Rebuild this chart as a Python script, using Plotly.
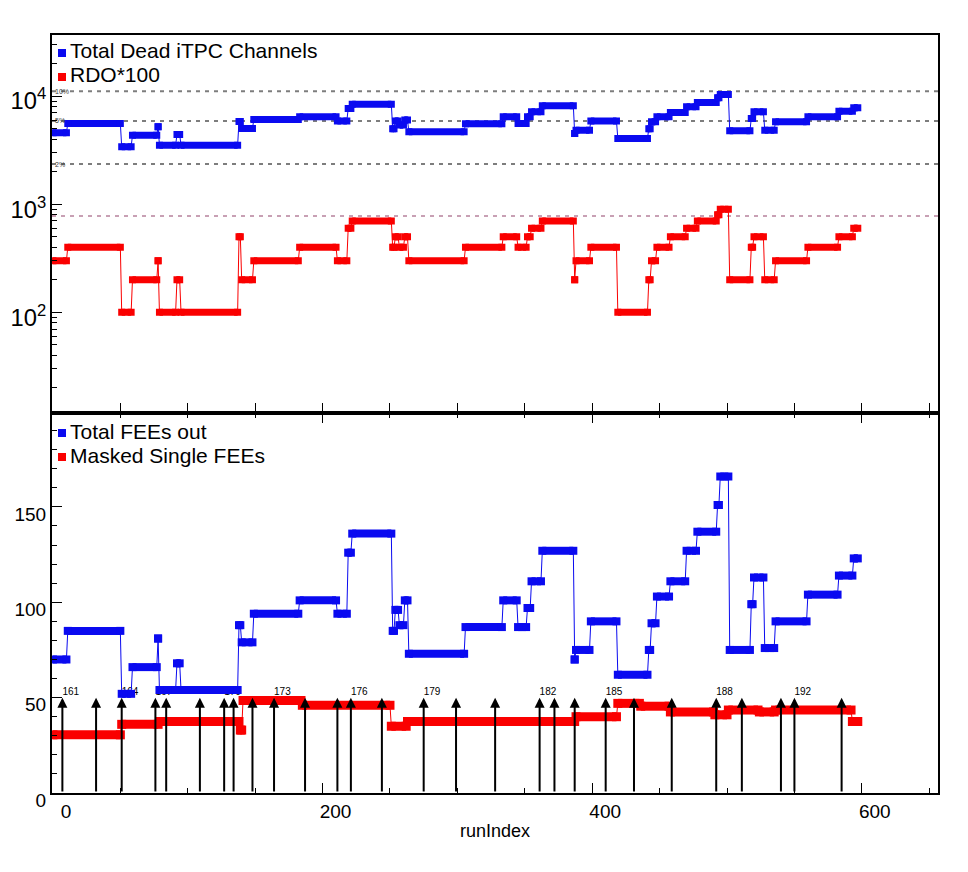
import numpy as np
import plotly.graph_objects as go

# ---------------- data ----------------
# run-index ranges sharing the same detector configuration
seg_start = [0, 11, 51, 59, 78, 79, 92, 95, 138, 140, 149, 183, 211, 219, 222, 252, 254, 257, 261, 264,
             306, 334, 345, 352, 355, 363, 387, 388, 399, 419, 442, 444, 448, 458, 470, 478, 493, 495,
             502, 518, 520, 528, 536, 560, 583, 594]
seg_end = [10, 50, 58, 77, 78, 91, 94, 137, 139, 148, 182, 210, 218, 221, 251, 253, 256, 260, 263, 305,
           333, 344, 351, 354, 362, 386, 387, 398, 418, 441, 443, 447, 457, 469, 477, 492, 494, 501,
           517, 519, 527, 535, 559, 582, 593, 597]
# Total FEEs out (bottom, blue)
fee_out = [70, 85, 52, 66, 81, 54, 68, 54, 88, 79, 94, 101, 94, 126, 136, 85, 96, 88, 101, 73,
           87, 101, 87, 97, 111, 127, 70, 75, 90, 62, 75, 89, 103, 111, 127, 137, 151, 166,
           75, 99, 113, 76, 90, 104, 114, 123]
# RDO*100 (top, red)
rdo_x100 = [300, 400, 100, 200, 300, 100, 200, 100, 500, 200, 300, 400, 300, 600, 700, 400, 500, 400, 500, 300,
            400, 500, 400, 500, 600, 700, 200, 300, 400, 100, 200, 300, 400, 500, 600, 700, 800, 900,
            200, 400, 500, 200, 300, 400, 500, 600]
# Total Dead iTPC Channels (top, blue)
dead_channels = [4570, 5590, 3400, 4355, 5200, 3515, 4420, 3515, 5830, 5020, 6085, 6430, 5870, 7690, 8400,
                 5000, 5900, 5400, 6000, 4680, 5550, 6430, 5590, 6430, 7150, 8130, 4510, 4840, 5870, 4060,
                 5000, 5800, 6430, 7060, 7960, 8740, 9640, 10370, 4770, 6210, 7150, 4840, 5780, 6430,
                 7260, 7790]

# Masked Single FEEs (bottom, red)
masked_start = [0, 51, 79, 139, 141, 185, 251, 263, 388, 419, 436, 458, 491, 501, 524, 536, 593]
masked_end = [50, 78, 138, 140, 184, 250, 262, 387, 418, 435, 457, 490, 500, 523, 535, 592, 597]
masked_fees = [30.5, 36, 37.5, 33, 48.5, 46, 35, 37.5, 40, 47, 45.5, 42.5, 41, 43.5, 42.5, 43.5, 37.5]

# reference levels in the top panel
pct_levels = [11100, 5900, 2350]
pct_labels = ["10%", "5%", "2%"]
rdo_ref_level = 780

# day-boundary arrows (bottom panel)
day_arrow_run = [7, 32, 51, 76, 84, 109, 127, 134, 148, 164, 187, 211, 221, 244, 275, 299, 328,
                 361, 372, 387, 410, 431, 459, 492, 511, 540, 550, 585]
day_label_run = [7, 51, 76, 127, 164, 221, 275, 361, 410, 492, 550]
day_label_text = ["161", "164", "167", "170", "173", "176", "179", "182", "185", "188", "192"]
arrow_top = 50

x_ticks = [0, 200, 400, 600]
# ------------------------------------------------------------------

BLUE = "rgb(10,10,240)"
RED = "rgb(250,0,0)"
FONT = "Liberation Sans, Arial, sans-serif"


def path_xy(starts, ends, vals):
    xs, ys = [], []
    for s, e, v in zip(starts, ends, vals):
        xs += [s, e]
        ys += [v, v]
    return xs, ys


def band_xy(starts, ends, vals):
    xs, ys = [], []
    for s, e, v in zip(starts, ends, vals):
        xs += [s, e, None]
        ys += [v, v, None]
    return xs, ys


def add_series(fig, starts, ends, vals, color, xa, ya, thick):
    px, py = path_xy(starts, ends, vals)
    fig.add_trace(go.Scatter(x=px, y=py, mode="lines", line=dict(color=color, width=1),
                             xaxis=xa, yaxis=ya, showlegend=False, hoverinfo="skip"))
    bx, by = band_xy(starts, ends, vals)
    fig.add_trace(go.Scatter(x=bx, y=by, mode="lines+markers",
                             line=dict(color=color, width=thick),
                             marker=dict(symbol="square", size=thick, color=color, line=dict(width=0)),
                             xaxis=xa, yaxis=ya, showlegend=False, hoverinfo="skip"))


fig = go.Figure()
XMIN, XMAX = -0.7, 656.5

# top panel reference dashed lines
for lv in pct_levels:
    fig.add_trace(go.Scatter(x=[XMIN, XMAX], y=[lv, lv], mode="lines",
                             line=dict(color="rgb(125,125,125)", width=2, dash="4px,5px"),
                             xaxis="x2", yaxis="y2", showlegend=False, hoverinfo="skip"))
fig.add_trace(go.Scatter(x=[XMIN, XMAX], y=[rdo_ref_level, rdo_ref_level], mode="lines",
                         line=dict(color="rgb(200,160,180)", width=2, dash="4px,5px"),
                         xaxis="x2", yaxis="y2", showlegend=False, hoverinfo="skip"))

add_series(fig, seg_start, seg_end, rdo_x100, RED, "x2", "y2", 7)
add_series(fig, seg_start, seg_end, dead_channels, BLUE, "x2", "y2", 7)

# bottom panel: day labels (drawn under the series)
fig.add_trace(go.Scatter(x=day_label_run, y=[arrow_top + 2.5] * len(day_label_run), mode="text",
                         text=day_label_text, textposition="middle right",
                         textfont=dict(family=FONT, size=10, color="black"),
                         xaxis="x", yaxis="y", showlegend=False, hoverinfo="skip"))
add_series(fig, masked_start, masked_end, masked_fees, RED, "x", "y", 9)
add_series(fig, seg_start, seg_end, fee_out, BLUE, "x", "y", 8)

annotations = []
for r in day_arrow_run:
    annotations.append(dict(x=r, y=arrow_top, ax=r, ay=0, xref="x", yref="y", axref="x", ayref="y",
                            showarrow=True, arrowhead=2, arrowsize=1, arrowwidth=2,
                            arrowcolor="black", text=""))

# percentage labels on the top panel
for lv, lab in zip(pct_levels, pct_labels):
    annotations.append(dict(x=0.001, y=np.log10(lv), xref="x2 domain", yref="y2", text=lab,
                            showarrow=False, xanchor="left", yanchor="middle",
                            font=dict(family=FONT, size=7, color="rgb(60,60,60)")))

# legends (ROOT style boxes drawn as shapes + text); positions in screenshot px
H = 758.0


def ypaper(py):
    return (793 - py) / H


def xpaper(px):
    return (px - 52) / 886.0


legend_rows = [
    ("Total Dead iTPC Channels", BLUE, 51),
    ("RDO*100", RED, 75),
    ("Total FEEs out", BLUE, 431),
    ("Masked Single FEEs", RED, 455),
]
shapes = []
for text, col, py in legend_rows:
    annotations.append(dict(x=xpaper(68), y=ypaper(py), xref="paper", yref="paper", text=text,
                            showarrow=False, xanchor="left", yanchor="middle",
                            font=dict(family=FONT, size=21, color="black")))
    shapes.append(dict(type="rect", xref="paper", yref="paper",
                       x0=xpaper(58), x1=xpaper(66), y0=ypaper(py + 6), y1=ypaper(py - 2),
                       fillcolor=col, line=dict(width=0)))

split = (793 - 412.5) / H

axis_common = dict(showline=True, linecolor="black", linewidth=2, mirror=True, showgrid=False,
                   zeroline=False, ticks="inside", tickcolor="black", automargin=False,
                   tickfont=dict(family=FONT, size=19, color="black"))

# page body adds an 8px offset: figure is 960x864 so the plot lands at the reference place
fig.update_layout(
    width=960, height=864,
    margin=dict(l=44, r=30, t=27, b=79, autoexpand=False),
    paper_bgcolor="white", plot_bgcolor="white",
    showlegend=False,
    xaxis=dict(domain=[0, 1], anchor="y", range=[XMIN, XMAX], tickmode="array", tickvals=x_ticks,
               ticklen=10, tickwidth=1, mirror="allticks", ticklabelshift=13,
               minor=dict(ticks="inside", dtick=50, tick0=0, ticklen=5, tickcolor="black"),
               title=dict(text="runIndex", font=dict(family=FONT, size=18, color="black"), standoff=4),
               **{k: v for k, v in axis_common.items() if k != "mirror"}),
    yaxis=dict(domain=[0, split], anchor="x", range=[0, 199.5], dtick=50, tick0=0, ticklen=10,
               ticklabelshift=7,
               minor=dict(ticks="inside", dtick=10, ticklen=5, tickcolor="black"),
               **axis_common),
    xaxis2=dict(domain=[0, 1], anchor="y2", range=[XMIN, XMAX], dtick=50, tick0=0, ticklen=10,
                showticklabels=False, **axis_common),
    yaxis2=dict(domain=[split, 1], anchor="x2", type="log", range=[1.074, 4.565], dtick=1,
                exponentformat="power", ticklen=10, ticklabelshift=5,
                minor=dict(ticks="inside", dtick="D1", ticklen=5, tickcolor="black"),
                **axis_common),
    annotations=annotations,
    shapes=shapes,
)

fig.write_html("out.html")
